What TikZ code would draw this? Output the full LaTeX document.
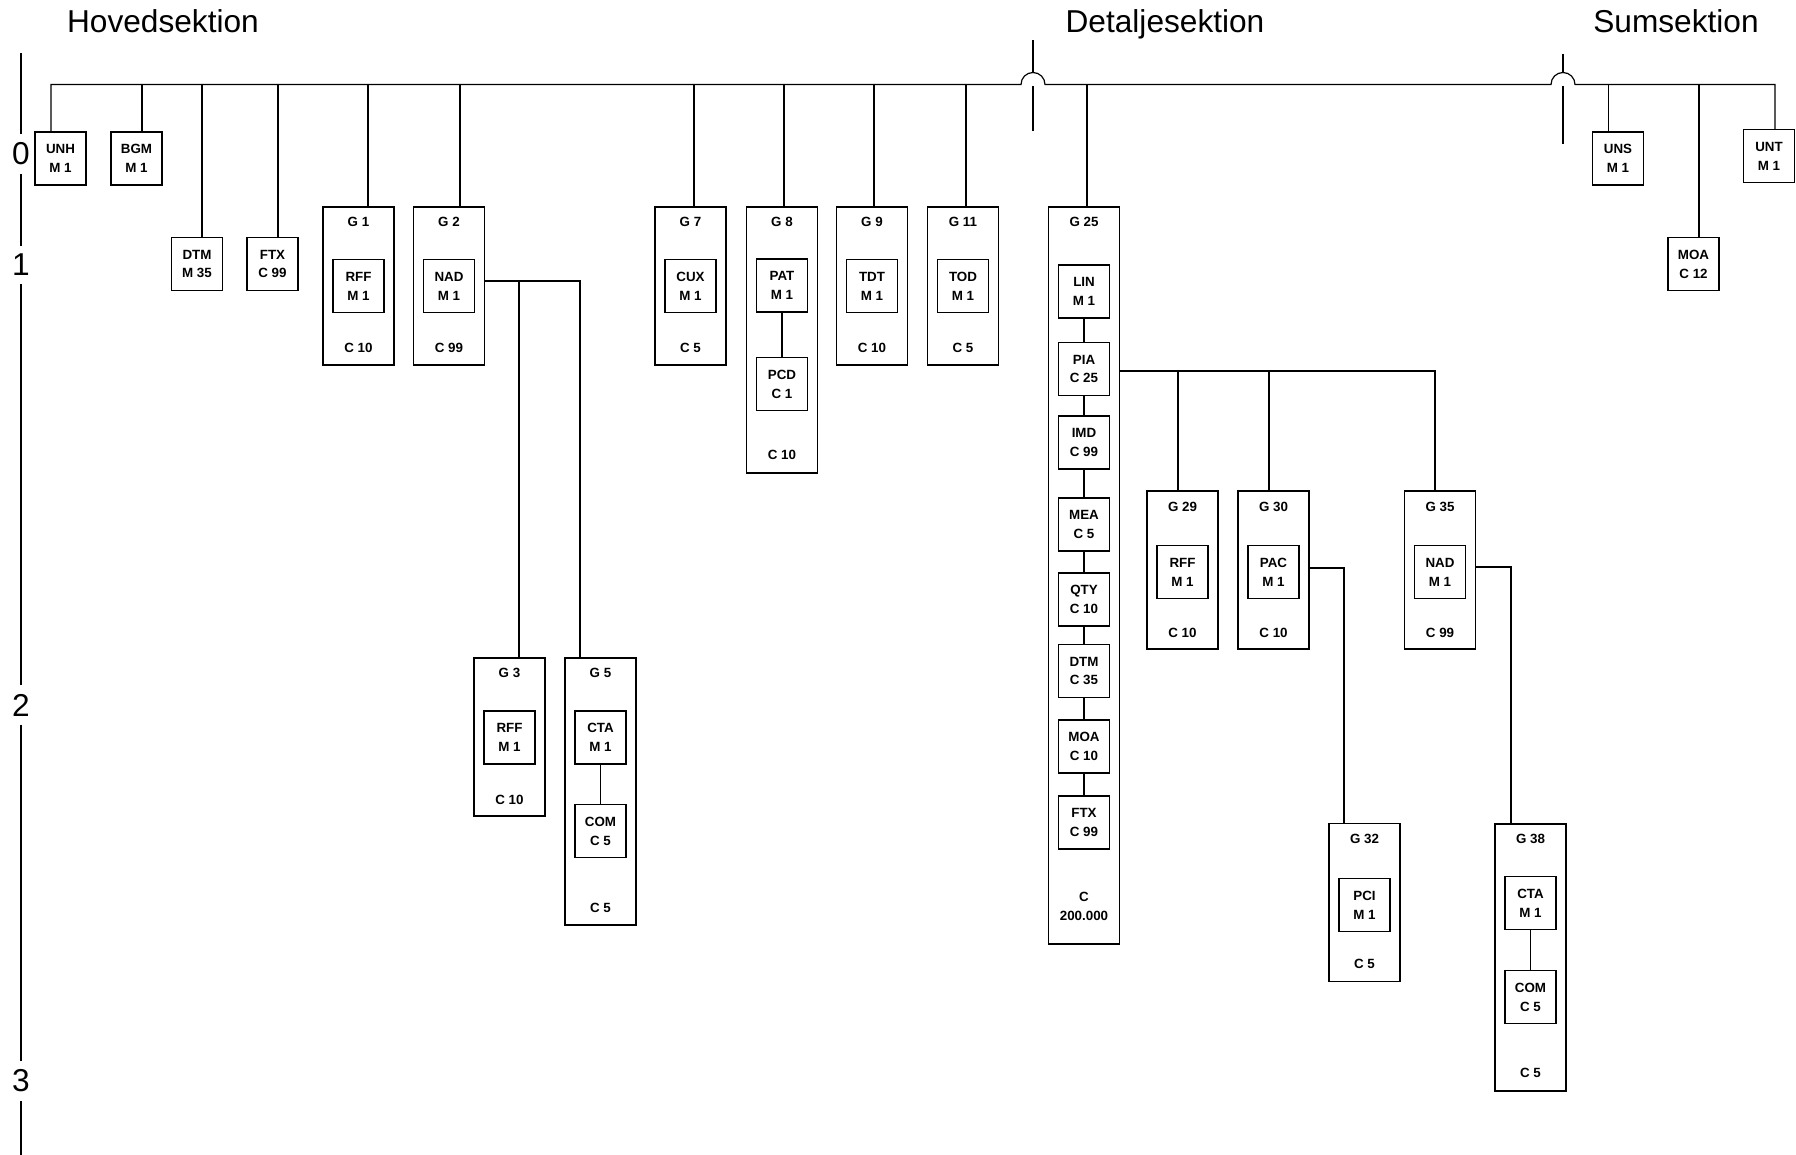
\documentclass[tikz,border=0pt]{standalone}
\usepackage{fontspec}
\setmainfont{Liberation Sans}
\usepackage{tikz}
\newcommand{\segfont}{\fontsize{9.5}{13.4}\selectfont\bfseries}
\newcommand{\headfont}{\fontsize{22.5}{27}\selectfont}
\tikzstyle{seg}=[draw=black,line width=1pt,inner sep=1pt,align=center,
  minimum width=1.275cm,minimum height=1.325cm,font=\segfont]
\tikzstyle{grp}=[draw=black,line width=1pt,
  minimum width=1.775cm,minimum height=3.95cm]
\tikzstyle{lbl}=[inner sep=0pt,align=center,font=\segfont]
\tikzstyle{head}=[anchor=base,font=\headfont]
\tikzstyle{lvl}=[inner sep=0.2cm,font=\headfont]
\tikzstyle{none}=[]

\begin{document}
\begin{tikzpicture}[x=0.025cm,y=0.025cm,line width=0.85pt]
            \useasboundingbox (0, 0) rectangle (1796, -1155);
            \node [style=head] (0) at (163, -33) {Hovedsektion};
            \node [style=head] (1) at (1165, -33) {Detaljesektion};
            \node [style=head] (2) at (1676, -33) {Sumsektion};
            \node [style=lvl] (3) at (21, -154) {0};
            \node [style=lvl] (4) at (21, -265) {1};
            \node [style=lvl] (5) at (21, -705) {2};
            \node [style=lvl] (6) at (21, -1081) {3};
            \node [style=seg] (7) at (60.5, -158.5) {UNH\\M 1};
            \node [style=seg] (8) at (136.5, -158.5) {BGM\\M 1};
            \node [style=seg] (9) at (197, -264) {DTM\\M 35};
            \node [style=seg] (10) at (272.5, -264) {FTX\\C 99};
            \node [style=grp] (11) at (358.5, -286) {};
            \node [style=lbl] (12) at (358.5, -222) {G 1};
            \node [style=seg] (13) at (358.5, -286) {RFF\\M 1};
            \node [style=lbl] (14) at (358.5, -348) {C 10};
            \node [style=grp] (15) at (449, -286) {};
            \node [style=lbl] (16) at (449, -222) {G 2};
            \node [style=seg] (17) at (449, -286) {NAD\\M 1};
            \node [style=lbl] (18) at (449, -348) {C 99};
            \node [style=grp] (19) at (509.5, -737) {};
            \node [style=lbl] (20) at (509.5, -673) {G 3};
            \node [style=seg] (21) at (509.5, -737.5) {RFF\\M 1};
            \node [style=lbl] (22) at (509.5, -800) {C 10};
            \node [style=grp, minimum height=6.675cm] (23) at (600.5, -791.5) {};
            \node [style=lbl] (24) at (600.5, -673) {G 5};
            \node [style=seg] (25) at (600.5, -737.5) {CTA\\M 1};
            \node [style=seg] (26) at (600.5, -831) {COM\\C 5};
            \node [style=lbl] (27) at (600.5, -908) {C 5};
            \node [style=grp] (28) at (690.5, -286) {};
            \node [style=lbl] (29) at (690.5, -222) {G 7};
            \node [style=seg] (30) at (690.5, -286) {CUX\\M 1};
            \node [style=lbl] (31) at (690.5, -348) {C 5};
            \node [style=grp, minimum height=6.65cm] (32) at (782, -340) {};
            \node [style=lbl] (33) at (782, -222) {G 8};
            \node [style=seg] (34) at (782, -285.5) {PAT\\M 1};
            \node [style=seg] (35) at (782, -384) {PCD\\C 1};
            \node [style=lbl] (36) at (782, -455) {C 10};
            \node [style=grp] (37) at (872, -286) {};
            \node [style=lbl] (38) at (872, -222) {G 9};
            \node [style=seg] (39) at (872, -286) {TDT\\M 1};
            \node [style=lbl] (40) at (872, -348) {C 10};
            \node [style=grp] (41) at (963, -286) {};
            \node [style=lbl] (42) at (963, -222) {G 11};
            \node [style=seg] (43) at (963, -286) {TOD\\M 1};
            \node [style=lbl] (44) at (963, -348) {C 5};
            \node [style=grp, minimum height=18.425cm] (45) at (1084, -575.5) {};
            \node [style=lbl] (46) at (1084, -222) {G 25};
            \node [style=seg] (47) at (1084, -291.5) {LIN\\M 1};
            \node [style=seg] (48) at (1084, -369) {PIA\\C 25};
            \node [style=seg] (49) at (1084, -442.5) {IMD\\C 99};
            \node [style=seg] (50) at (1084, -524.5) {MEA\\C 5};
            \node [style=seg] (51) at (1084, -599.5) {QTY\\C 10};
            \node [style=seg] (52) at (1084, -671) {DTM\\C 35};
            \node [style=seg] (53) at (1084, -746.5) {MOA\\C 10};
            \node [style=seg] (54) at (1084, -822.5) {FTX\\C 99};
            \node [style=lbl] (55) at (1084, -906) {C\\200.000};
            \node [style=grp] (56) at (1182.5, -570) {};
            \node [style=lbl] (57) at (1182.5, -507) {G 29};
            \node [style=seg] (58) at (1182.5, -572) {RFF\\M 1};
            \node [style=lbl] (59) at (1182.5, -633) {C 10};
            \node [style=grp] (60) at (1273.5, -570) {};
            \node [style=lbl] (61) at (1273.5, -507) {G 30};
            \node [style=seg] (62) at (1273.5, -572) {PAC\\M 1};
            \node [style=lbl] (63) at (1273.5, -633) {C 10};
            \node [style=grp] (64) at (1364.5, -902.5) {};
            \node [style=lbl] (65) at (1364.5, -839) {G 32};
            \node [style=seg] (66) at (1364.5, -905) {PCI\\M 1};
            \node [style=lbl] (67) at (1364.5, -964) {C 5};
            \node [style=grp] (68) at (1440, -570) {};
            \node [style=lbl] (69) at (1440, -507) {G 35};
            \node [style=seg] (70) at (1440, -572) {NAD\\M 1};
            \node [style=lbl] (71) at (1440, -633) {C 99};
            \node [style=grp, minimum height=6.675cm] (72) at (1530.5, -957.5) {};
            \node [style=lbl] (73) at (1530.5, -839) {G 38};
            \node [style=seg] (74) at (1530.5, -903) {CTA\\M 1};
            \node [style=seg] (75) at (1530.5, -997) {COM\\C 5};
            \node [style=lbl] (76) at (1530.5, -1073) {C 5};
            \node [style=seg] (77) at (1618, -158.5) {UNS\\M 1};
            \node [style=seg] (78) at (1693.5, -264) {MOA\\C 12};
            \node [style=seg] (79) at (1769, -156) {UNT\\M 1};
            \node [style=none] (80) at (51, -84.5) {};
            \node [style=none] (81) at (142, -84.5) {};
            \node [style=none] (82) at (202, -84.5) {};
            \node [style=none] (83) at (278, -84.5) {};
            \node [style=none] (84) at (368, -84.5) {};
            \node [style=none] (85) at (460, -84.5) {};
            \node [style=none] (86) at (694, -84.5) {};
            \node [style=none] (87) at (784, -84.5) {};
            \node [style=none] (88) at (874, -84.5) {};
            \node [style=none] (89) at (966, -84.5) {};
            \node [style=none] (90) at (1021, -84.5) {};
            \node [style=none] (92) at (1087, -84.5) {};
            \node [style=none] (93) at (1551, -84.5) {};
            \node [style=none] (95) at (1608.5, -84.5) {};
            \node [style=none] (96) at (1699, -84.5) {};
            \node [style=none] (97) at (1775, -84.5) {};
            \node [style=none] (98) at (1033, -40) {};
            \node [style=none] (99) at (1033, -72.5) {};
            \node [style=none] (100) at (1033, -86) {};
            \node [style=none] (101) at (1033, -131) {};
            \node [style=none] (102) at (1563, -54) {};
            \node [style=none] (103) at (1563, -72.5) {};
            \node [style=none] (104) at (1563, -86) {};
            \node [style=none] (105) at (1563, -144) {};
            \node [style=none] (106) at (21, -53) {};
            \node [style=none] (107) at (21, -1155) {};
            \node [style=none] (108) at (519, -281) {};
            \node [style=none] (109) at (580, -281) {};
            \node [style=none] (110) at (1178, -371) {};
            \node [style=none] (111) at (1269, -371) {};
            \node [style=none] (112) at (1435, -371) {};
            \node [style=none] (113) at (1344, -568) {};
            \node [style=none] (114) at (1511, -567) {};
            \draw (106.center) -- (3) -- (4) -- (5) -- (6) -- (107.center);
            \draw (80.center |- 7.north) -- (80.center) -- (90.center)
              arc (180:0:12) -- (93.center) arc (180:0:12)
              -- (97.center) -- (97.center |- 79.north);
            \draw (98.center) -- (99.center);
            \draw (100.center) -- (101.center);
            \draw (102.center) -- (103.center);
            \draw (104.center) -- (105.center);
            \draw (81.center) -- (81.center |- 8.north);
            \draw (82.center) -- (82.center |- 9.north);
            \draw (83.center) -- (83.center |- 10.north);
            \draw (84.center) -- (84.center |- 11.north);
            \draw (85.center) -- (85.center |- 15.north);
            \draw (86.center) -- (86.center |- 28.north);
            \draw (87.center) -- (87.center |- 32.north);
            \draw (88.center) -- (88.center |- 37.north);
            \draw (89.center) -- (89.center |- 41.north);
            \draw (92.center) -- (92.center |- 45.north);
            \draw (95.center) -- (95.center |- 77.north);
            \draw (96.center) -- (96.center |- 78.north);
            \draw (15.east |- 108.center) -- (109.center) -- (109.center |- 23.north);
            \draw (108.center) -- (108.center |- 19.north);
            \draw (45.east |- 110.center) -- (112.center) -- (112.center |- 68.north);
            \draw (110.center) -- (110.center |- 56.north);
            \draw (111.center) -- (111.center |- 60.north);
            \draw (60.east |- 113.center) -- (113.center) -- (113.center |- 64.north);
            \draw (68.east |- 114.center) -- (114.center) -- (114.center |- 72.north);
            \draw (34) -- (35);
            \draw (25) -- (26);
            \draw (74) -- (75);
            \draw (47) -- (48) -- (49) -- (50) -- (51) -- (52) -- (53) -- (54);
\end{tikzpicture}
\end{document}
